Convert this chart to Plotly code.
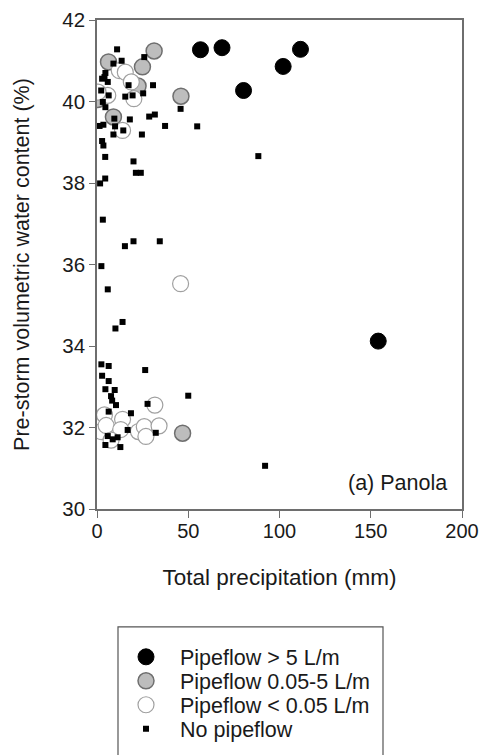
import plotly.graph_objects as go

# Storm events: total precipitation (mm) vs pre-storm volumetric water content (%)
heavy_x = [56.7, 68.5, 80.3, 102.0, 111.5, 154.1]
heavy_y = [41.27, 41.32, 40.27, 40.86, 41.28, 34.12]

mid_x = [31.3, 6.3, 24.9, 46.0, 0.4, 9.0, 22.5, 46.9]
mid_y = [41.24, 40.97, 40.85, 40.13, 40.05, 39.62, 40.38, 31.86]

low_x = [12.2, 15.5, 18.8, 20.2, 5.9, 0.6, 14.0, 45.8,
         4.1, 2.3, 5.0, 14.0, 13.0, 22.7, 25.9, 26.8, 34.0, 31.7, 7.7]
low_y = [40.76, 40.72, 40.48, 40.07, 40.15, 40.23, 39.29, 35.53,
         32.31, 31.90, 32.05, 32.20, 31.95, 31.90, 32.02, 31.78, 32.04, 32.55, 31.69]

none_x = [11.0, 13.5, 9.0, 25.9, 4.6, 4.1, 5.9, 2.8, 2.3, 30.7, 17.3, 15.5, 19.5,
          25.3, 6.4, 3.2, 4.6, 45.8, 9.5, 18.0, 28.6, 31.7, 37.3, 54.9, 1.4, 3.5,
          9.9, 14.4, 9.0, 24.6, 2.8, 3.5, 4.5, 20.0, 21.3, 24.0, 4.5, 88.4,
          1.7, 3.2, 15.3, 20.0, 34.4, 2.4, 5.9, 14.0, 10.1,
          2.4, 6.4, 26.4, 2.8, 6.4, 4.6, 9.7, 7.7, 50.0, 10.4, 8.3, 27.7, 6.4,
          18.6, 16.8, 32.2, 5.9, 8.6, 11.3, 4.6, 12.8, 92.1]
none_y = [41.28, 41.00, 40.93, 41.09, 40.70, 40.60, 40.48, 40.56, 40.27, 40.40,
          40.40, 40.12, 40.15, 40.20, 40.15, 39.99, 39.86, 39.82, 39.58, 39.56,
          39.63, 39.68, 39.40, 39.39, 39.40, 39.43, 39.39, 39.29, 39.19, 39.19,
          39.03, 38.92, 38.64, 38.53, 38.25, 38.25, 38.11, 38.66,
          37.99, 37.10, 36.45, 36.57, 36.57, 35.96, 35.39, 34.59, 34.43,
          33.55, 33.51, 33.41, 33.27, 33.14, 32.94, 32.92, 32.77, 32.78, 32.55,
          32.66, 32.58, 32.39, 32.35, 31.94, 31.87, 31.79, 31.71, 31.76, 31.57,
          31.52, 31.06]

x_ticks = [0, 50, 100, 150, 200]
y_ticks = [30, 32, 34, 36, 38, 40, 42]

FONT = "Liberation Sans, Arial, sans-serif"
TEXT_COL = "#1a1a1a"
AXIS_COL = "#6e6e6e"

# plot area in pixels (figure is 480 x 755)
L, R, T, B = 97.0, 462.0, 19.5, 509.0
PW, PH = R - L, B - T


def px_x(px):
    return (px - L) / PW


def px_y(py):
    return (B - py) / PH


fig = go.Figure()
fig.add_trace(go.Scatter(
    x=heavy_x, y=heavy_y, mode="markers", name="Pipeflow > 5 L/m", legend="legend",
    marker=dict(symbol="circle", size=16, color="black",
                line=dict(color="black", width=1))))
fig.add_trace(go.Scatter(
    x=mid_x, y=mid_y, mode="markers", name="Pipeflow 0.05-5 L/m", legend="legend2",
    marker=dict(symbol="circle", size=16, color="#bdbdbd",
                line=dict(color="#6f6f6f", width=1.5))))
fig.add_trace(go.Scatter(
    x=low_x, y=low_y, mode="markers", name="Pipeflow < 0.05 L/m", legend="legend3",
    marker=dict(symbol="circle", size=16, color="white",
                line=dict(color="#a0a0a0", width=1.2))))
fig.add_trace(go.Scatter(
    x=none_x, y=none_y, mode="markers", name="No pipeflow", legend="legend4",
    marker=dict(symbol="square", size=6, color="black",
                line=dict(color="black", width=0))))


def legend_row(py):
    return dict(x=px_x(112), y=px_y(py), xanchor="left", yanchor="middle",
                bgcolor="rgba(0,0,0,0)", borderwidth=0,
                font=dict(family=FONT, size=21.5, color=TEXT_COL),
                itemwidth=58, itemsizing="trace")


fig.update_layout(
    width=480, height=755,
    margin=dict(l=L, r=480 - R, t=T, b=755 - B, autoexpand=False),
    paper_bgcolor="white", plot_bgcolor="white",
    font=dict(family=FONT, size=20, color=TEXT_COL),
    showlegend=True,
    legend=legend_row(657),
    legend2=legend_row(681),
    legend3=legend_row(705),
    legend4=legend_row(729),
    shapes=[dict(type="rect", xref="paper", yref="paper",
                 x0=px_x(118), x1=px_x(383), y0=px_y(762), y1=px_y(627),
                 line=dict(color="#555555", width=1.2), fillcolor="rgba(0,0,0,0)")],
    annotations=[dict(x=193, y=30.64, xref="x", yref="y", text="(a) Panola",
                      showarrow=False, xanchor="right", yanchor="middle",
                      font=dict(family=FONT, size=21.5, color=TEXT_COL))],
)

fig.update_xaxes(
    range=[0, 200], tickvals=x_ticks, ticks="outside", ticklen=7, tickwidth=1.2,
    tickcolor=AXIS_COL, showline=True, linecolor=AXIS_COL, linewidth=1.5,
    mirror=True, showgrid=False, zeroline=False, ticklabeloverflow="allow",
    ticklabelstandoff=-4, automargin=False,
    tickfont=dict(family=FONT, size=20, color=TEXT_COL),
    title=dict(text="Total precipitation (mm)",
               font=dict(family=FONT, size=22.5, color=TEXT_COL), standoff=28))
fig.update_yaxes(
    range=[30, 42], tickvals=y_ticks, ticks="outside", ticklen=6, tickwidth=1.2,
    tickcolor=AXIS_COL, showline=True, linecolor=AXIS_COL, linewidth=1.5,
    mirror=True, showgrid=False, zeroline=False, ticklabeloverflow="allow",
    automargin=False,
    tickfont=dict(family=FONT, size=20.5, color=TEXT_COL),
    title=dict(text="Pre-storm volumetric water content (%)",
               font=dict(family=FONT, size=21.5, color=TEXT_COL), standoff=27))

fig.write_html("out.html")
